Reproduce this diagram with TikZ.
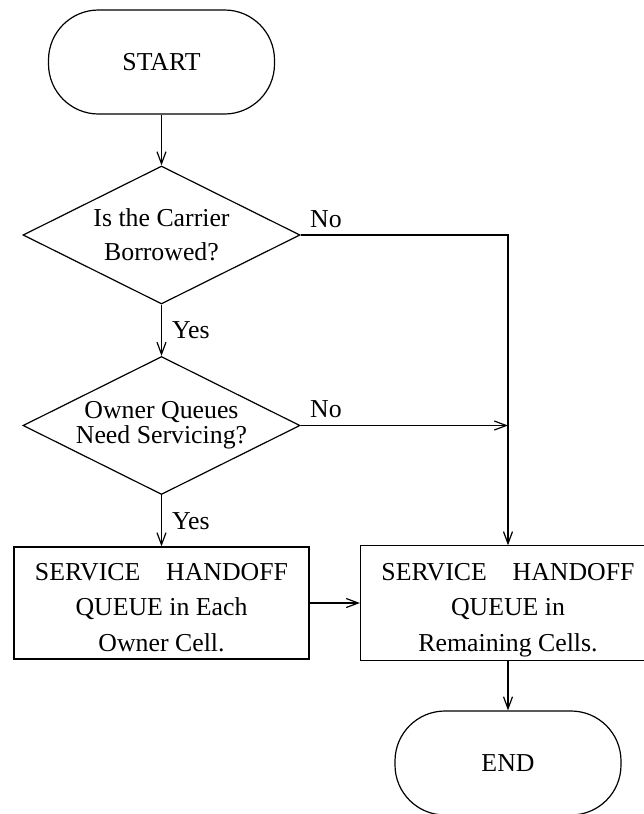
\documentclass[tikz,border=0pt]{standalone}
\usepackage{fontspec}
\setmainfont{Liberation Serif}
\usepackage{tikz}
\usetikzlibrary{arrows.meta, positioning, shapes.geometric}
\tikzset{
  terminal/.style={draw, rectangle, rounded corners=50pt, minimum width=226pt, minimum height=104pt},
  decision/.style={draw, diamond, aspect=2, inner sep=0pt, minimum width=277pt, minimum height=138pt, align=center},
  process/.style={draw, rectangle, minimum width=295pt, minimum height=112pt, align=center},
  flow/.style={-{Straight Barb[length=12pt,width=9pt]}},
  branch/.style={inner sep=0pt}
}

\begin{document}
\begin{tikzpicture}[x=1pt, y=-1pt, line width=1.2pt, font=\fontsize{25.8}{35.5}\selectfont]
  \useasboundingbox (0,0) rectangle (644,814);
  \clip (0,0) rectangle (644,814);

  % Start and the two questions
  \node[terminal] (start) at (161.5,62) {START};
  \node[decision, font=\fontsize{25.8}{34}\selectfont] (borrowed) at (161.5,235) {Is the Carrier\\Borrowed?};
  \node[decision, font=\fontsize{25.8}{25}\selectfont] (owner) at (161.5,425.5) {Owner Queues\\Need Servicing?};

  % Handoff queues
  \node[process] (ownq) at (161.5,603) {\rule{0pt}{26pt}SERVICE\hspace{1em}HANDOFF\\QUEUE in Each\hspace*{18pt}\\Owner Cell.};
  \node[process] (remq) at (508,603) {\rule{0pt}{31pt}SERVICE\hspace{1em}HANDOFF\\QUEUE in\\Remaining Cells.};
  \node[terminal] (end) at (508,763) {END};

  \coordinate (corner) at (508,235);
  \coordinate (join) at (508,425.5);

  % Connectors
  \draw[flow] (start) -- (borrowed);
  \draw[flow] (borrowed) -- node[branch, midway, anchor=west, xshift=10pt] (yes1) {Yes} (owner);
  \draw[flow] (owner) -- node[branch, midway, anchor=west, xshift=10pt] (yes2) {Yes} (ownq);
  \draw[flow] (borrowed.east) -- node[branch, pos=0, anchor=south west, xshift=9pt, yshift=7pt] (no1) {No} (corner) -- (remq.north);
  \draw[flow] (owner.east) -- node[branch, pos=0, anchor=south west, xshift=9pt, yshift=7pt] (no2) {No} (join);
  \draw[flow] (ownq) -- (remq);
  \draw[flow] (remq) -- (end);
\end{tikzpicture}
\end{document}
